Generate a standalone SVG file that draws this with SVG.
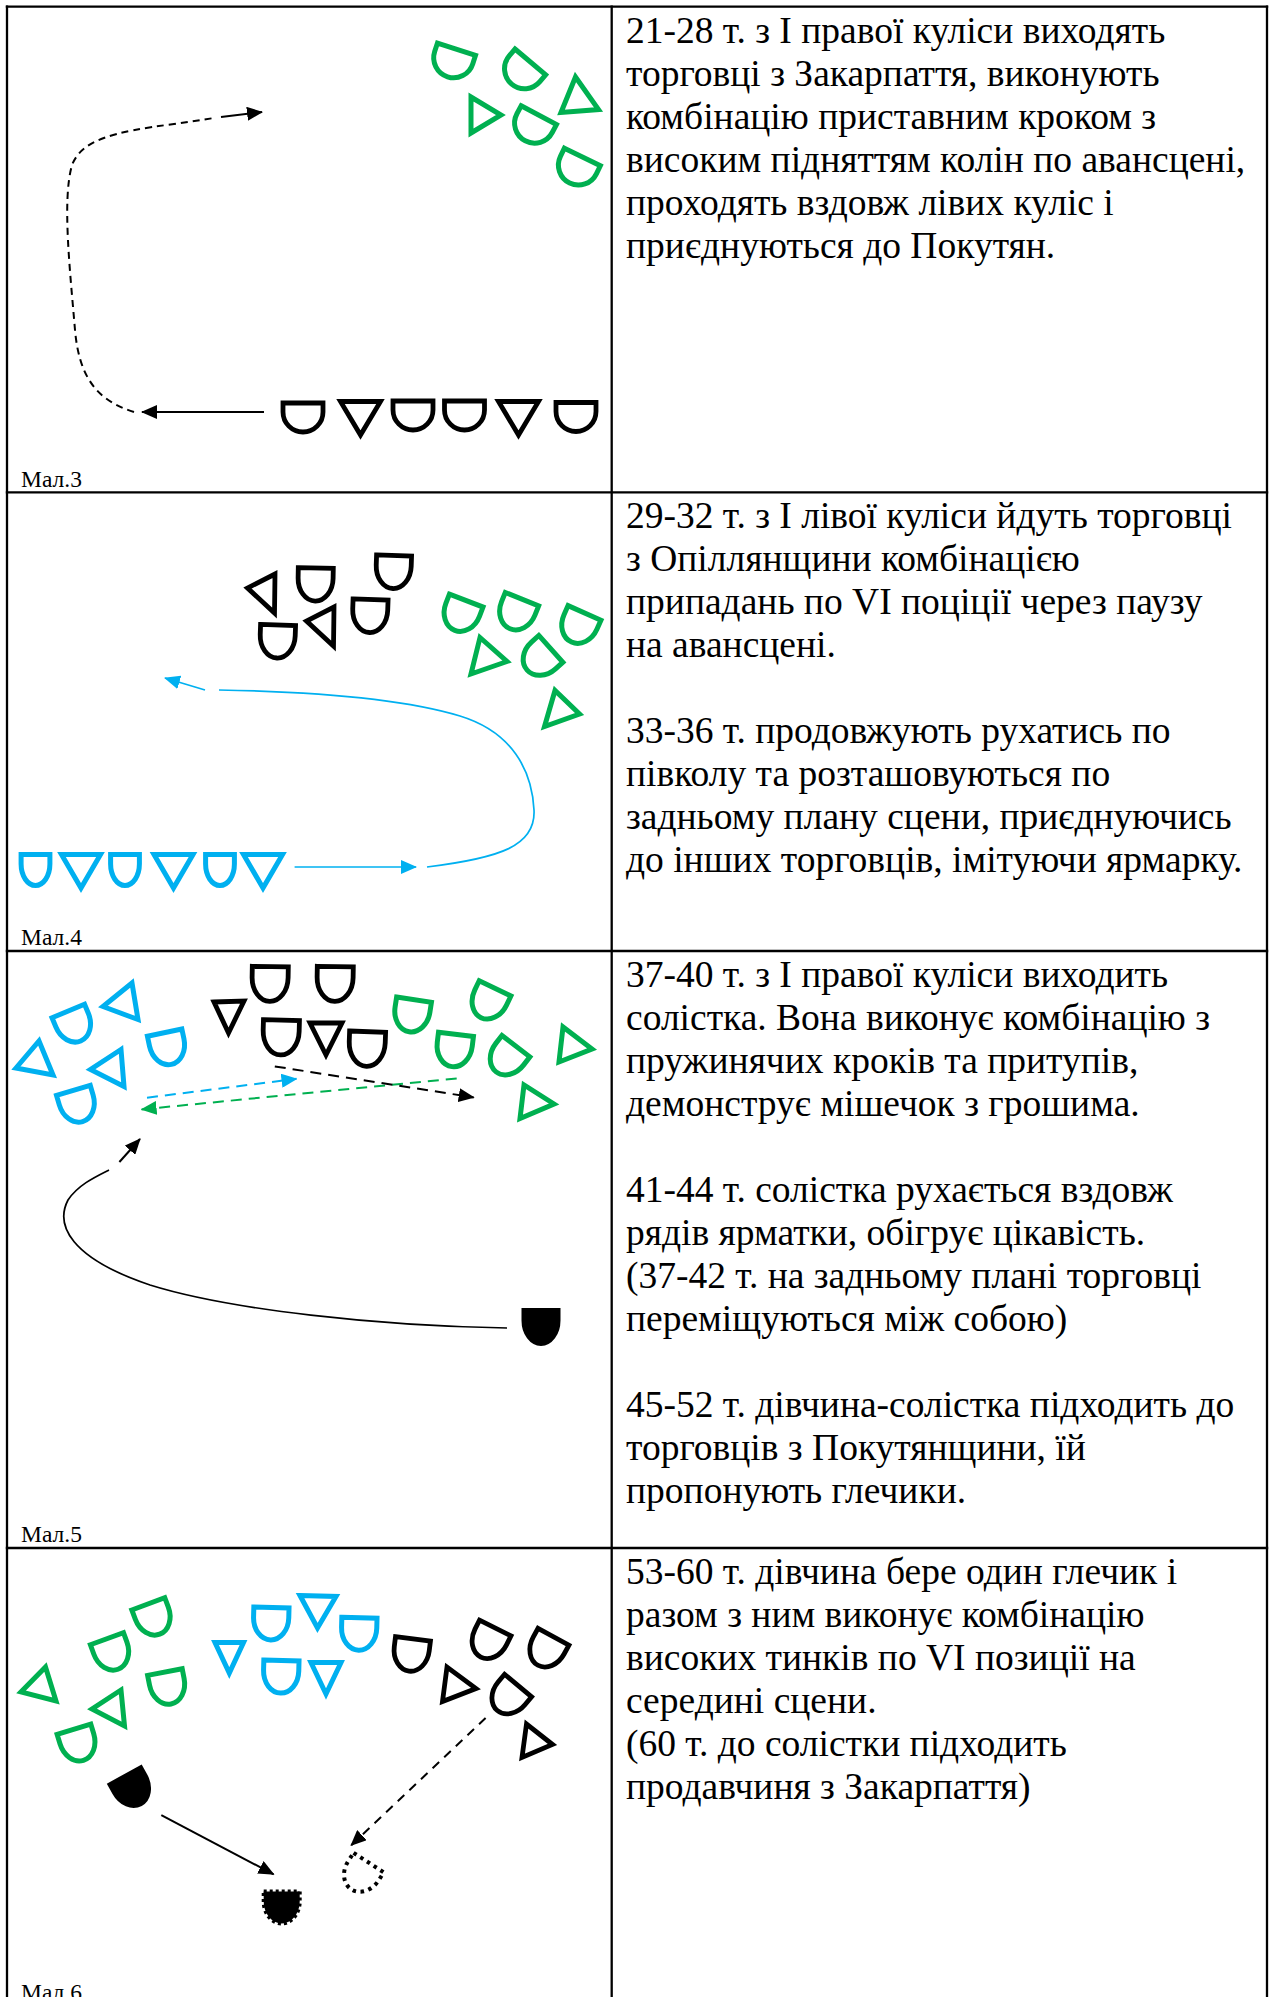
<svg xmlns="http://www.w3.org/2000/svg" xmlns:xlink="http://www.w3.org/1999/xlink" width="1271" height="1997" viewBox="0 0 1271 1997">
  <style>
    .grid { stroke:#000; stroke-width:2.3; fill:none; }
    .txt { font-family:"Liberation Serif","Times New Roman","DejaVu Serif",serif; font-size:37.5px; fill:#000; }
    .lbl { font-family:"Liberation Serif","Times New Roman","DejaVu Serif",serif; font-size:23.5px; fill:#000; }
    .g { fill:none; stroke:#00B050; stroke-width:5; stroke-linejoin:miter; }
    .c { fill:none; stroke:#00B0F0; stroke-width:5; stroke-linejoin:miter; }
    .k { fill:none; stroke:#000; stroke-width:4.8; stroke-linejoin:miter; }
    .kf { fill:#000; stroke:#000; stroke-width:3; }
    .kfd { fill:#000; stroke:#000; stroke-width:4; stroke-dasharray:3 3; }
    .kd { fill:none; stroke:#000; stroke-width:4; stroke-dasharray:3.5 4.5; }
    .ln { fill:none; stroke-width:2; }
    .thin { fill:none; stroke-width:1.7; }
  </style>
  <defs>
    <!-- dancer glyph: flat top, straight sides, round bottom -->
    <path id="d" d="M -20,-14.5 H 20 V -5.5 A 20 20 0 0 1 -20,-5.5 Z" vector-effect="non-scaling-stroke"/>
    <marker id="ak" viewBox="0 0 16 14" refX="15" refY="7" markerWidth="16" markerHeight="14" markerUnits="userSpaceOnUse" orient="auto"><path d="M0,0 L16,7 L0,14 Z" fill="#000"/></marker>
    <marker id="ac" viewBox="0 0 16 14" refX="15" refY="7" markerWidth="16" markerHeight="14" markerUnits="userSpaceOnUse" orient="auto"><path d="M0,0 L16,7 L0,14 Z" fill="#00B0F0"/></marker>
    <marker id="ag" viewBox="0 0 16 14" refX="15" refY="7" markerWidth="16" markerHeight="14" markerUnits="userSpaceOnUse" orient="auto"><path d="M0,0 L16,7 L0,14 Z" fill="#00B050"/></marker>
  </defs>

  <rect width="1271" height="1997" fill="#fff"/>

  <!-- table grid -->
  <g id="table">
    <line class="grid" x1="7" y1="5.6" x2="7" y2="1997"/>
    <line class="grid" x1="1267" y1="5.6" x2="1267" y2="1997"/>
    <line class="grid" x1="611.7" y1="5.6" x2="611.7" y2="1997"/>
    <line class="grid" x1="5.8" y1="6.7" x2="1268.2" y2="6.7"/>
    <line class="grid" x1="5.8" y1="492.3" x2="1268.2" y2="492.3"/>
    <line class="grid" x1="5.8" y1="951" x2="1268.2" y2="951"/>
    <line class="grid" x1="5.8" y1="1548" x2="1268.2" y2="1548"/>
  </g>

  <!-- figure labels -->
  <g id="labels">
    <text class="lbl" x="21" y="486.5">Мал.3</text>
    <text class="lbl" x="21" y="945">Мал.4</text>
    <text class="lbl" x="21" y="1542">Мал.5</text>
    <text class="lbl" x="21" y="2000">Мал.6</text>
  </g>

  <!-- descriptions -->
  <g id="desc-3">
    <text class="txt" x="626" y="42.7">21-28 т. з І правої куліси виходять</text>
    <text class="txt" x="626" y="85.7">торговці з Закарпаття, виконують</text>
    <text class="txt" x="626" y="128.7">комбінацію приставним кроком з</text>
    <text class="txt" x="626" y="171.7">високим підняттям колін по авансцені,</text>
    <text class="txt" x="626" y="214.7">проходять вздовж лівих куліс і</text>
    <text class="txt" x="626" y="257.7">приєднуються до Покутян.</text>
  </g>
  <g id="desc-4">
    <text class="txt" x="626" y="528.3">29-32 т. з І лівої куліси йдуть торговці</text>
    <text class="txt" x="626" y="571.3">з Опіллянщини комбінацією</text>
    <text class="txt" x="626" y="614.3">припадань по VI поціції через паузу</text>
    <text class="txt" x="626" y="657.3">на авансцені.</text>
    <text class="txt" x="626" y="743.3">33-36 т. продовжують рухатись по</text>
    <text class="txt" x="626" y="786.3">півколу та розташовуються по</text>
    <text class="txt" x="626" y="829.3">задньому плану сцени, приєднуючись</text>
    <text class="txt" x="626" y="872.3">до інших торговців, імітуючи ярмарку.</text>
  </g>
  <g id="desc-5">
    <text class="txt" x="626" y="986.5">37-40 т. з І правої куліси виходить</text>
    <text class="txt" x="626" y="1029.5">солістка. Вона виконує комбінацію з</text>
    <text class="txt" x="626" y="1072.5">пружинячих кроків та притупів,</text>
    <text class="txt" x="626" y="1115.5">демонструє мішечок з грошима.</text>
    <text class="txt" x="626" y="1201.5">41-44 т. солістка рухається вздовж</text>
    <text class="txt" x="626" y="1244.5">рядів ярматки, обігрує цікавість.</text>
    <text class="txt" x="626" y="1287.5">(37-42 т. на задньому плані торговці</text>
    <text class="txt" x="626" y="1330.5">переміщуються між собою)</text>
    <text class="txt" x="626" y="1416.5">45-52 т. дівчина-солістка підходить до</text>
    <text class="txt" x="626" y="1459.5">торговців з Покутянщини, їй</text>
    <text class="txt" x="626" y="1502.5">пропонують глечики.</text>
  </g>
  <g id="desc-6">
    <text class="txt" x="626" y="1584">53-60 т. дівчина бере один глечик і</text>
    <text class="txt" x="626" y="1627">разом з ним виконує комбінацію</text>
    <text class="txt" x="626" y="1670">високих тинків по VI позиції на</text>
    <text class="txt" x="626" y="1713">середині сцени.</text>
    <text class="txt" x="626" y="1756">(60 т. до солістки підходить</text>
    <text class="txt" x="626" y="1799">продавчиня з Закарпаття)</text>
  </g>

  <!-- figure 3: dancers -->
  <g id="fig3-green">
    <use href="#d" class="g" transform="translate(452,63) rotate(18)"/>
    <use href="#d" class="g" transform="translate(521,73) rotate(40)"/>
    <use href="#d" class="g" transform="translate(532,128) rotate(28)"/>
    <use href="#d" class="g" transform="translate(576,170) rotate(26)"/>
    <polygon class="g" points="575.5,77 561,112.5 598.5,109.5"/>
    <polygon class="g" points="471,97 471,133 501,115"/>
  </g>
  <g id="fig3-black">
    <use href="#d" class="k" transform="translate(303,417.5)"/>
    <polygon class="k" points="340.5,401.5 380.5,401.5 360.5,435"/>
    <use href="#d" class="k" transform="translate(413,415.5)"/>
    <use href="#d" class="k" transform="translate(464.5,415.5)"/>
    <polygon class="k" points="498.5,401.5 538.5,401.5 518.5,435"/>
    <use href="#d" class="k" transform="translate(576,417)"/>
  </g>

  <!-- figure 4: dancers -->
  <g id="fig4-black">
    <polygon class="k" points="275,574 274.5,613 247.5,588"/>
    <use href="#d" class="k" transform="translate(315.5,584.5) rotate(1) scale(0.875,1.14)"/>
    <use href="#d" class="k" transform="translate(393.5,572) rotate(2) scale(0.875,1.14)"/>
    <polygon class="k" points="334,607 333.5,646 306.5,621"/>
    <use href="#d" class="k" transform="translate(370,616) rotate(2) scale(0.875,1.14)"/>
    <use href="#d" class="k" transform="translate(277.5,641.5) rotate(2) scale(0.875,1.14)"/>
  </g>
  <g id="fig4-green">
    <use href="#d" class="g" transform="translate(460.5,615.5) rotate(21) scale(0.9,1.1)"/>
    <use href="#d" class="g" transform="translate(516,614) rotate(22) scale(0.9,1.1)"/>
    <use href="#d" class="g" transform="translate(578,627.5) rotate(24) scale(0.9,1.1)"/>
    <use href="#d" class="g" transform="translate(539,659.5) rotate(48) scale(0.9,1.1)"/>
    <polygon class="g" points="480,637.5 507,661.5 471,674"/>
    <polygon class="g" points="555,690.5 544.5,726.5 579.5,714"/>
  </g>
  <g id="fig4-cyan">
    <use href="#d" class="c" transform="translate(35.5,870) scale(0.72,1.07)"/>
    <polygon class="c" points="61.5,854.5 100.5,854.5 81,888"/>
    <use href="#d" class="c" transform="translate(125,870) scale(0.72,1.07)"/>
    <polygon class="c" points="154,854.5 193,854.5 173.5,888"/>
    <use href="#d" class="c" transform="translate(220,870) scale(0.72,1.07)"/>
    <polygon class="c" points="243.5,854.5 282.5,854.5 263,888"/>
  </g>

  <!-- figure 5: dancers -->
  <g id="fig5-cyan">
    <polygon class="c" points="16,1068 39,1041 53,1075"/>
    <polygon class="c" points="132,983 103,1006.5 138,1019.5"/>
    <polygon class="c" points="121,1049.5 90.5,1069.5 124,1086.5"/>
    <use href="#d" class="c" transform="translate(74.5,1026) rotate(-22.5) scale(0.88,1.12)"/>
    <use href="#d" class="c" transform="translate(168,1048.5) rotate(-12) scale(0.88,1.12)"/>
    <use href="#d" class="c" transform="translate(78,1106) rotate(-16.5) scale(0.88,1.12)"/>
  </g>
  <g id="fig5-black">
    <polygon class="k" points="214,1002 244,1001 228.5,1033"/>
    <use href="#d" class="k" transform="translate(270,984) rotate(1) scale(0.9,1.2)"/>
    <use href="#d" class="k" transform="translate(335,984) rotate(1) scale(0.9,1.2)"/>
    <use href="#d" class="k" transform="translate(281,1037.5) rotate(1.5) scale(0.9,1.2)"/>
    <polygon class="k" points="310,1023 342,1023 326,1055"/>
    <use href="#d" class="k" transform="translate(367,1049) rotate(2) scale(0.9,1.2)"/>
  </g>
  <g id="fig5-green">
    <use href="#d" class="g" transform="translate(411.6,1015.7) rotate(8.6) scale(0.88,1.12)"/>
    <use href="#d" class="g" transform="translate(488,1003) rotate(25.7) scale(0.88,1.12)"/>
    <use href="#d" class="g" transform="translate(454,1050.5) rotate(7) scale(0.88,1.12)"/>
    <use href="#d" class="g" transform="translate(506,1059) rotate(37.6) scale(0.88,1.12)"/>
    <polygon class="g" points="563,1027 559,1062 592,1049"/>
    <polygon class="g" points="524,1085 520,1118.5 554,1104"/>
  </g>
  <g id="fig5-soloist">
    <use href="#d" class="kf" transform="translate(541,1327) scale(0.9,1.2)"/>
  </g>

  <!-- figure 6: dancers -->
  <g id="fig6-green">
    <polygon class="g" points="45.5,1667 21,1692 56,1701"/>
    <use href="#d" class="g" transform="translate(154,1619) rotate(-20.6) scale(0.88,1.12)"/>
    <use href="#d" class="g" transform="translate(112.5,1654) rotate(-20) scale(0.88,1.12)"/>
    <use href="#d" class="g" transform="translate(168,1688) rotate(-11) scale(0.88,1.12)"/>
    <polygon class="g" points="121,1690 92,1709 124.5,1726"/>
    <use href="#d" class="g" transform="translate(78.7,1744.8) rotate(-17) scale(0.88,1.12)"/>
  </g>
  <g id="fig6-cyan">
    <polygon class="c" points="215,1642.5 243.5,1642.5 229.3,1673"/>
    <use href="#d" class="c" transform="translate(271,1623.7) rotate(1.5) scale(0.88,1.12)"/>
    <polygon class="c" points="300,1595.5 336,1596.5 317.5,1628"/>
    <use href="#d" class="c" transform="translate(359,1634) rotate(1.5) scale(0.88,1.12)"/>
    <use href="#d" class="c" transform="translate(281,1676.8) rotate(1.5) scale(0.88,1.12)"/>
    <polygon class="c" points="311,1662.5 341,1662.5 326,1694"/>
  </g>
  <g id="fig6-black">
    <use href="#d" class="k" transform="translate(411,1655) rotate(7) scale(0.88,1.12)"/>
    <use href="#d" class="k" transform="translate(488,1642.5) rotate(26.5) scale(0.88,1.12)"/>
    <use href="#d" class="k" transform="translate(545.7,1651) rotate(28.6) scale(0.88,1.12)"/>
    <polygon class="k" points="447,1667 442.5,1701.5 476,1688.5"/>
    <use href="#d" class="k" transform="translate(507.7,1698) rotate(39.8) scale(0.88,1.12)"/>
    <polygon class="k" points="526.5,1724 522,1757.5 552.5,1744.5"/>
  </g>
  <g id="fig6-soloist">
    <use href="#d" class="kf" transform="translate(133,1790) rotate(-28.8) scale(0.92,1.15)"/>
  </g>
  <g id="fig6-soloist-end">
    <use href="#d" class="kfd" transform="translate(281.7,1907.5) scale(0.9,1.1)"/>
  </g>
  <g id="fig6-seller-end">
    <use href="#d" class="kd" transform="translate(360,1876) rotate(33) scale(0.9,1.1)"/>
  </g>

  <!-- movement paths -->
  <g id="connectors">
    <!-- fig 3 -->
    <line class="ln" stroke="#000" x1="264" y1="412" x2="142" y2="412" marker-end="url(#ak)"/>
    <path class="ln" stroke="#000" stroke-dasharray="7 5" d="M 134,412 C 95,400 79,375 75,330 C 70,270 62,200 72,165 C 82,140 112,132 174,124 L 214,118"/>
    <line class="ln" stroke="#000" x1="221" y1="117" x2="262" y2="112" marker-end="url(#ak)"/>

    <!-- fig 4 -->
    <line class="thin" stroke="#00B0F0" x1="294.6" y1="867" x2="416" y2="867" marker-end="url(#ac)"/>
    <path class="thin" stroke="#00B0F0" d="M 427,867 C 500,858 536,846 534,810 C 532,770 512,732 460,716 C 410,701 330,692 219,690"/>
    <line class="thin" stroke="#00B0F0" x1="205" y1="690" x2="165" y2="678" marker-end="url(#ac)"/>

    <!-- fig 5 -->
    <line class="ln" stroke="#00B0F0" stroke-width="2.5" stroke-dasharray="11 7" x1="147" y1="1097.7" x2="296.5" y2="1078.8" marker-end="url(#ac)"/>
    <line class="ln" stroke="#00B050" stroke-width="2.5" stroke-dasharray="11 7" x1="456.7" y1="1078.4" x2="141.6" y2="1109.4" marker-end="url(#ag)"/>
    <line class="ln" stroke="#000" stroke-width="2.5" stroke-dasharray="11 7" x1="274.8" y1="1066.4" x2="473.7" y2="1097.4" marker-end="url(#ak)"/>
    <path class="thin" stroke="#000" d="M 507,1328 C 380,1326 230,1310 150,1285 C 70,1258 55,1225 68,1200 C 78,1185 95,1177 109,1170"/>
    <line class="ln" stroke="#000" x1="119.4" y1="1162" x2="140" y2="1139" marker-end="url(#ak)"/>

    <!-- fig 6 -->
    <line class="ln" stroke="#000" x1="161.3" y1="1815.2" x2="273.6" y2="1874.3" marker-end="url(#ak)"/>
    <line class="ln" stroke="#000" stroke-dasharray="9 7" x1="485.6" y1="1718" x2="351.1" y2="1845.4" marker-end="url(#ak)"/>
  </g>
</svg>
